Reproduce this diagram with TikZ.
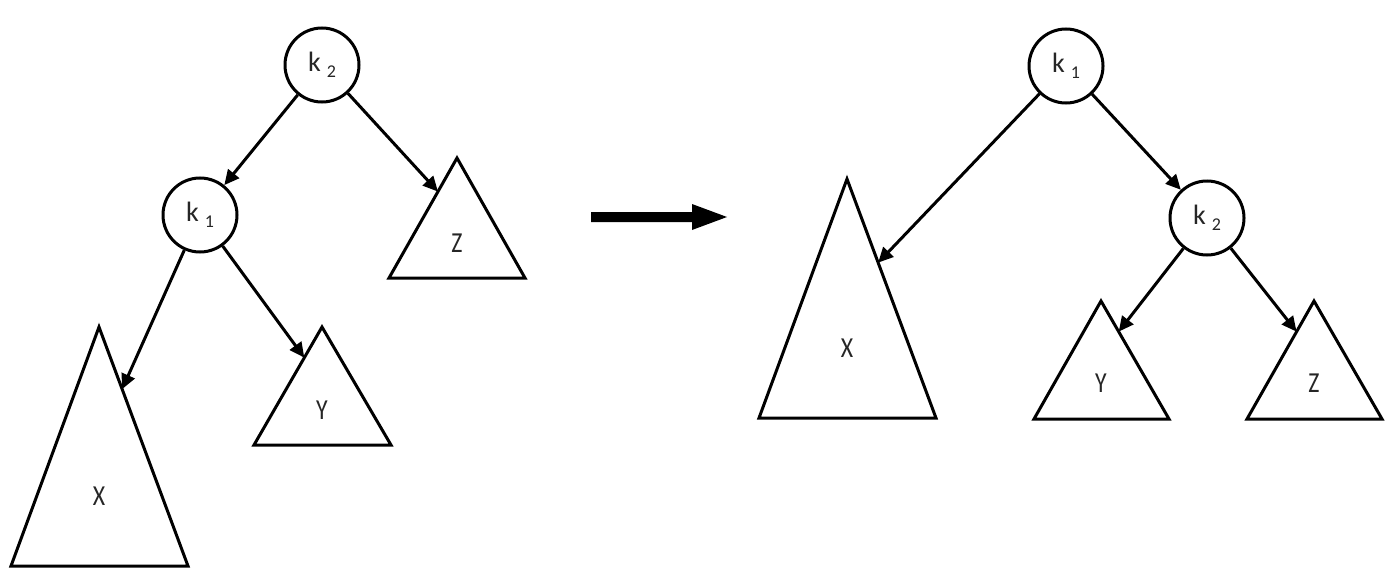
\documentclass[tikz,border=0pt]{standalone}
\usepackage{fontspec}
\setmainfont{Carlito}
\usetikzlibrary{arrows.meta,calc}
\begin{document}
\begin{tikzpicture}[x=1pt,y=-1pt,
  keynode/.style={circle,draw=black,line width=3pt,minimum size=74pt,inner sep=0pt,text=black!85,font=\fontsize{28}{34}\selectfont},
  treebox/.style={draw=black,line width=3pt,line join=miter},
  lbl/.style={text=black!85,font=\fontsize{29}{34}\selectfont,inner sep=0pt},
  link/.style={draw=black,line width=3pt,-{Triangle[length=15pt,width=14pt]}}]
\newcommand{\kk}[1]{k\hspace{6pt}\raisebox{-6pt}{\fontsize{18}{20}\selectfont #1}}
\newcommand{\nar}[1]{\scalebox{0.82}[1]{#1}}
\useasboundingbox (0,0) rectangle (1397,578);
% ---------- left tree ----------
\node[keynode] (lk2) at (322,65) {\kk{2}};
\node[keynode] (lk1) at (200,215) {\kk{1}};
\draw[treebox] (457,158) -- (525,278) -- (389,278) -- cycle;
\draw[treebox] (99,327) -- (188,566) -- (11,566) -- cycle;
\draw[treebox] (322,327) -- (391,445) -- (254,445) -- cycle;
\node[lbl] (lz) at (457,243) {\nar{Z}};
\node[lbl] (lx) at (99,496) {\nar{X}};
\node[lbl] (ly) at (322,410) {\nar{Y}};
\coordinate (lzin) at ($(457,158)!0.28!(389,278)$);
\coordinate (lxin) at ($(99,327)!0.26!(188,566)$);
\coordinate (lyin) at ($(322,327)!0.26!(254,445)$);
\draw[link] (lk2) -- (lk1);
\draw[link] (lk2) -- (lzin);
\draw[link] (lk1) -- (lxin);
\draw[link] (lk1) -- (lyin);
% ---------- transformation arrow ----------
\fill[black] (591,212) -- (692,212) -- (692,204) -- (727,217) -- (692,230) -- (692,222) -- (591,222) -- cycle;
% ---------- right tree ----------
\node[keynode] (rk1) at (1066,66) {\kk{1}};
\node[keynode] (rk2) at (1207,218) {\kk{2}};
\draw[treebox] (847,179) -- (936,418) -- (759,418) -- cycle;
\draw[treebox] (1101,301) -- (1169,419) -- (1034,419) -- cycle;
\draw[treebox] (1314,301) -- (1382,419) -- (1247,419) -- cycle;
\node[lbl] (rx) at (847,348) {\nar{X}};
\node[lbl] (ry) at (1101,383) {\nar{Y}};
\node[lbl] (rz) at (1314,383) {\nar{Z}};
\coordinate (rxin) at ($(847,179)!0.35!(936,418)$);
\coordinate (ryin) at ($(1101,301)!0.26!(1169,419)$);
\coordinate (rzin) at ($(1314,301)!0.26!(1247,419)$);
\draw[link] (rk1) -- (rxin);
\draw[link] (rk1) -- (rk2);
\draw[link] (rk2) -- (ryin);
\draw[link] (rk2) -- (rzin);
\end{tikzpicture}
\end{document}
